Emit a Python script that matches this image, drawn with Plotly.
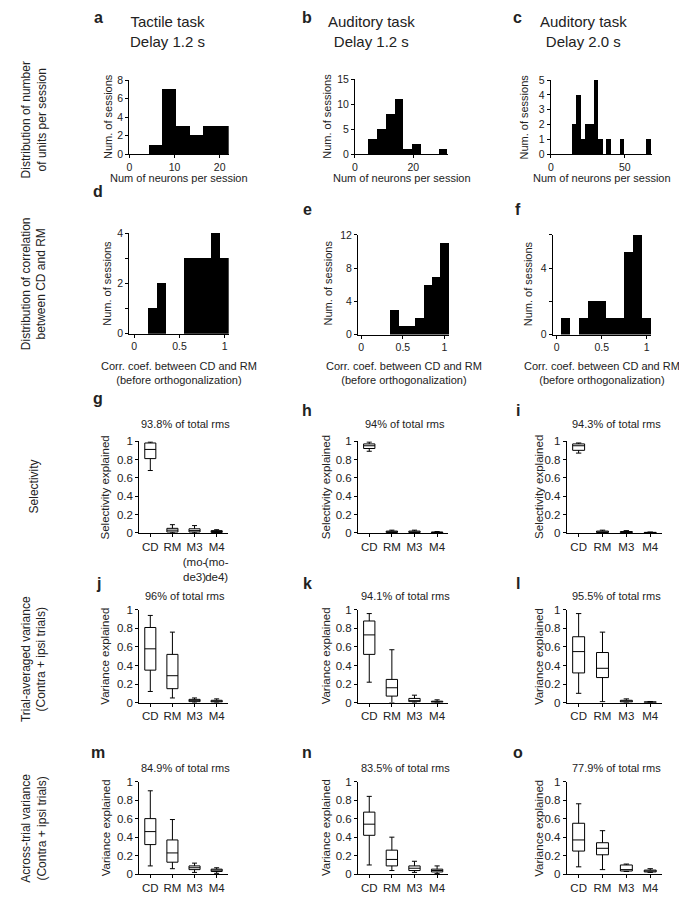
import plotly.graph_objects as go

# page body has an 8px margin: work in screen pixels and shift by OFF
OFF = 8
W, H = 687 - OFF, 899 - OFF
FONT = "Liberation Sans, Arial, sans-serif"
TXT = "#222"

# ---- histogram data (bin centres / counts) ----
a_centers = [5.9, 8.9, 11.9, 14.9, 17.9, 20.9]
a_counts = [1, 7, 3, 2, 3, 3]
b_centers = [6.1, 9.1, 12.1, 15.1, 18.1, 21.1, 30.1]
b_counts = [3, 5, 8, 11, 1, 2, 1]
c_centers = [15.5, 18.5, 21.5, 24.4, 27.4, 30.4, 33.4, 39.0, 47.9, 65.7]
c_counts = [2, 4, 1, 2, 2, 5, 1, 1, 1, 1]
d_centers = [0.2, 0.3, 0.6, 0.7, 0.8, 0.9, 1.0]
d_counts = [1, 2, 3, 3, 3, 4, 3]
e_centers = [0.4, 0.5, 0.6, 0.7, 0.8, 0.9, 1.0]
e_counts = [3, 1, 1, 2, 6, 7, 11]
f_centers = [0.1, 0.3, 0.4, 0.5, 0.6, 0.7, 0.8, 0.9, 1.0]
f_counts = [1, 1, 2, 2, 1, 1, 5, 6, 1]

# ---- box plot data: [q1, median, q3, lower whisker, upper whisker] for CD, RM, M3, M4 ----
modes = ["CD", "RM", "M3", "M4"]
g_stats = [[0.81, 0.91, 0.98, 0.68, 0.99], [0.01, 0.03, 0.05, 0.0, 0.09],
           [0.01, 0.025, 0.045, 0.0, 0.08], [0.005, 0.015, 0.025, 0.0, 0.035]]
h_stats = [[0.92, 0.95, 0.97, 0.89, 0.99], [0.005, 0.012, 0.02, 0.0, 0.03],
           [0.005, 0.01, 0.02, 0.0, 0.03], [0.002, 0.005, 0.01, 0.0, 0.015]]
i_stats = [[0.90, 0.95, 0.97, 0.87, 0.98], [0.005, 0.01, 0.02, 0.0, 0.03],
           [0.003, 0.008, 0.015, 0.0, 0.025], [0.001, 0.003, 0.006, 0.0, 0.01]]
j_stats = [[0.35, 0.58, 0.81, 0.12, 0.94], [0.15, 0.29, 0.52, 0.05, 0.76],
           [0.01, 0.02, 0.035, 0.0, 0.05], [0.005, 0.012, 0.025, 0.0, 0.04]]
k_stats = [[0.52, 0.73, 0.88, 0.22, 0.96], [0.07, 0.16, 0.25, 0.0, 0.57],
           [0.01, 0.02, 0.045, 0.0, 0.08], [0.003, 0.008, 0.015, 0.0, 0.03]]
l_stats = [[0.32, 0.55, 0.71, 0.10, 0.96], [0.27, 0.37, 0.54, 0.01, 0.76],
           [0.005, 0.015, 0.025, 0.0, 0.04], [0.001, 0.004, 0.008, 0.0, 0.012]]
m_stats = [[0.32, 0.46, 0.60, 0.09, 0.90], [0.13, 0.23, 0.37, 0.06, 0.59],
           [0.05, 0.07, 0.09, 0.02, 0.12], [0.03, 0.045, 0.055, 0.01, 0.07]]
n_stats = [[0.42, 0.54, 0.67, 0.10, 0.84], [0.09, 0.16, 0.26, 0.04, 0.40],
           [0.04, 0.065, 0.09, 0.02, 0.14], [0.025, 0.04, 0.055, 0.007, 0.09]]
o_stats = [[0.25, 0.37, 0.55, 0.08, 0.76], [0.21, 0.28, 0.34, 0.05, 0.47],
           [0.035, 0.05, 0.10, 0.03, 0.11], [0.025, 0.035, 0.045, 0.02, 0.06]]
rms_titles = {"g": "93.8% of total rms", "h": "94% of total rms", "i": "94.3% of total rms",
              "j": "96% of total rms", "k": "94.1% of total rms", "l": "95.5% of total rms",
              "m": "84.9% of total rms", "n": "83.5% of total rms", "o": "77.9% of total rms"}

fig = go.Figure()
annotations = []


def px_x(x):
    return (x - OFF) / W


def px_y(y):
    return 1 - (y - OFF) / H


def ann(text, x, y, size=11, angle=0, bold=False):
    if bold:
        text = "<b>" + text + "</b>"
    annotations.append(dict(text=text, x=px_x(x), y=px_y(y), xref="paper", yref="paper",
                            showarrow=False, textangle=angle, xanchor="center", yanchor="middle",
                            font=dict(size=size, color=TXT, family=FONT)))


def axis_style(dom, anchor, rng, tickvals, ticktext, size=11):
    return dict(domain=dom, anchor=anchor, range=rng, tickvals=tickvals, ticktext=ticktext,
                showline=True, linecolor="black", linewidth=1, ticks="outside", ticklen=3,
                tickcolor="black", showgrid=False, zeroline=False, tickangle=0,
                tickfont=dict(size=size, color=TXT, family=FONT))


layout_axes = {}
idx = [0]


def add_panel(x0, x1, top, bottom, xr, yr, xt, xtt, yt, ytt, size=11):
    idx[0] += 1
    n = idx[0]
    xa = "x" if n == 1 else "x%d" % n
    ya = "y" if n == 1 else "y%d" % n
    layout_axes["xaxis" if n == 1 else "xaxis%d" % n] = axis_style(
        [px_x(x0), px_x(x1)], ya, xr, xt, xtt, size)
    layout_axes["yaxis" if n == 1 else "yaxis%d" % n] = axis_style(
        [px_y(bottom), px_y(top)], xa, yr, yt, ytt, size)
    return xa, ya


def hist(centers, counts, width, box, xr, yr, xt, xtt, yt, ytt):
    xa, ya = add_panel(*box, xr, yr, xt, xtt, yt, ytt, size=10.5)
    fig.add_trace(go.Bar(x=centers, y=counts, width=width, marker=dict(color="black", line=dict(width=0)),
                         xaxis=xa, yaxis=ya, showlegend=False))


hist(a_centers, a_counts, 3.0, (127, 227, 75, 150), [0, 22], [0, 8],
     [0, 10, 20], ["0", "10", "20"], [0, 2, 4, 6, 8], ["0", "2", "4", "6", "8"])
hist(b_centers, b_counts, 3.0, (354, 448, 74, 150), [0, 32], [0, 15],
     [0, 20], ["0", "20"], [0, 5, 10, 15], ["0", "5", "10", "15"])
hist(c_centers, c_counts, 3.1, (551, 653, 75, 150), [0, 68.5], [0, 5],
     [0, 50], ["0", "50"], [0, 1, 2, 3, 4, 5], ["0", "1", "2", "3", "4", "5"])
hist(d_centers, d_counts, 0.1, (127, 227, 230, 332), [-0.055, 1.045], [0, 4],
     [0, 0.5, 1], ["0", "0.5", "1"], [0, 1, 2, 3, 4], ["0", "", "2", "", "4"])
hist(e_centers, e_counts, 0.1, (357, 449, 232, 333), [-0.04, 1.06], [0, 12],
     [0, 0.5, 1], ["0", "0.5", "1"], [0, 4, 8, 12], ["0", "4", "8", "12"])
hist(f_centers, f_counts, 0.1, (553, 652, 232, 333), [-0.044, 1.05], [0, 6],
     [0, 0.5, 1], ["0", "0.5", "1"], [0, 2, 4, 6], ["0", "", "4", ""])

yvals = [0, 0.2, 0.4, 0.6, 0.8, 1]
ytext = ["0", "0.2", "0.4", "0.6", "0.8", "1"]
g_ticks = ["CD", "RM", "M3<br>(mo-<br>de3)", "M4<br>(mo-<br>de4)"]


def boxes(stats, box, ticktext):
    xa, ya = add_panel(*box, [0.5, 4.5], [0, 1.0], [1, 2, 3, 4], ticktext, yvals, ytext, size=11.5)
    fig.add_trace(go.Box(x=[1, 2, 3, 4],
                         q1=[s[0] for s in stats], median=[s[1] for s in stats],
                         q3=[s[2] for s in stats], lowerfence=[s[3] for s in stats],
                         upperfence=[s[4] for s in stats],
                         width=0.5, whiskerwidth=0.45, fillcolor="white",
                         line=dict(color="black", width=1), boxpoints=False,
                         xaxis=xa, yaxis=ya, showlegend=False))


cols = [(137, 226), (357, 448), (567, 663)]
rows = [(441, 534), (612, 706), (786, 880)]
all_stats = [[g_stats, h_stats, i_stats], [j_stats, k_stats, l_stats], [m_stats, n_stats, o_stats]]
for r in range(3):
    for c in range(3):
        tt = g_ticks if (r == 0 and c == 0) else modes
        boxes(all_stats[r][c], (cols[c][0], cols[c][1], rows[r][0], rows[r][1]), tt)

# ---- text ----
col_centers = [165, 371, 584]
ann("Tactile task<br>Delay 1.2 s", col_centers[0], 26, 15)
ann("Auditory task<br>Delay 1.2 s", col_centers[1], 26, 15)
ann("Auditory task<br>Delay 2.0 s", col_centers[2], 26, 15)

letter_x = [96, 306, 518]
letter_y = [[12, 12, 12], [188, 206, 206], [398, 410, 410], [585, 585, 585], [757, 757, 757]]
for i, L in enumerate("abcdefghijklmno"):
    ann(L, letter_x[i % 3], letter_y[i // 3][i % 3], 16, bold=True)

ann("Distribution of number<br>of units per session", 31, 115, 12, -90)
ann("Distribution of correlation<br>between CD and RM", 31, 281, 12, -90)
ann("Selectivity", 31, 487, 12, -90)
ann("Trial-averaged variance<br>(Contra + ipsi trials)", 31, 662, 12, -90)
ann("Across-trial variance<br>(Contra + ipsi trials)", 31, 833, 12, -90)

for x in [105, 325, 524]:
    ann("Num. of sessions", x, 112, 11, -90)
for x in [105, 327, 528]:
    ann("Num. of sessions", x, 281, 11, -90)
for cx in [177, 401, 602]:
    ann("Num of neurons per session", cx, 174, 11)
for cx in [177, 403, 603]:
    ann("Corr. coef. between CD and RM<br>(before orthogonalization)", cx, 372, 11)

ylab_x = [103, 325, 539]
for r, lab in enumerate(["Selectivity explained", "Variance explained", "Variance explained"]):
    for c in range(3):
        ann(lab, ylab_x[c], (rows[r][0] + rows[r][1]) / 2, 11.5, -90)

title_y = [424, 598, 772]
for i, L in enumerate("ghijklmno"):
    r, c = i // 3, i % 3
    ann(rms_titles[L], (cols[c][0] + cols[c][1]) / 2 + 2, title_y[r], 11)

fig.update_layout(width=W, height=H, margin=dict(l=0, r=0, t=0, b=0),
                  plot_bgcolor="white", paper_bgcolor="white", showlegend=False,
                  bargap=0, annotations=annotations, **layout_axes)

fig.write_html("out.html")
